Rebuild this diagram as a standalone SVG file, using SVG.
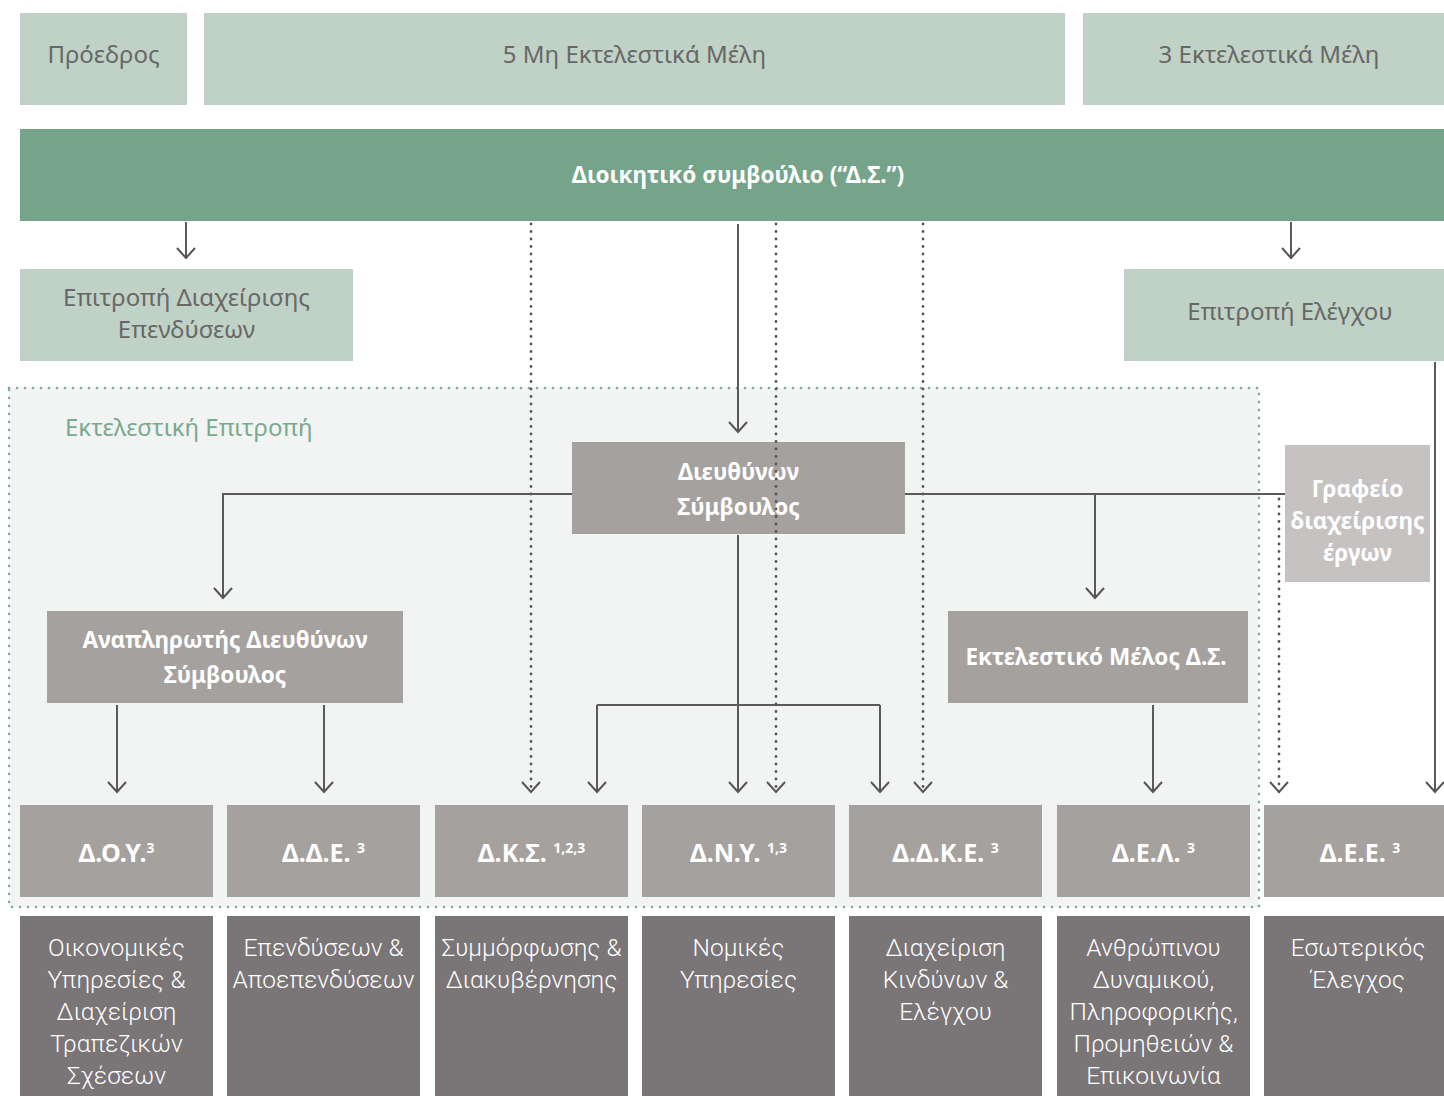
<svg xmlns="http://www.w3.org/2000/svg" width="1444" height="1096" viewBox="0 0 1444 1096">
<style>
.top{fill:#c0d1c6}
.ds{fill:#75a48a}
.mid{fill:#a5a19f}
.light{fill:#c6c2c2}
.dark{fill:#7a7576}
.tl{font-family:"Noto Sans","DejaVu Sans",sans-serif;font-size:24px;fill:#676767;text-anchor:middle}
.tb{font-family:"Noto Sans","DejaVu Sans",sans-serif;font-size:22.5px;font-weight:bold;fill:#ffffff;text-anchor:middle}
.tc{font-family:"Noto Sans","DejaVu Sans",sans-serif;font-size:25px;font-weight:bold;fill:#ffffff;text-anchor:middle}
.tw{font-family:Roboto,"Noto Sans",sans-serif;font-size:24.5px;font-weight:300;fill:#ffffff;text-anchor:middle}
.sup{font-size:14px}
.ln{fill:none;stroke:#5a5a5a;stroke-width:2}
.dot{fill:none;stroke:#555;stroke-width:2.8;stroke-linecap:round;stroke-dasharray:0 7.5}
</style>
<defs>
<marker id="arr" markerUnits="userSpaceOnUse" markerWidth="24" markerHeight="24" refX="12" refY="12" orient="auto">
<path d="M2,3 L12,12 L2,21" fill="none" stroke="#555" stroke-width="2" stroke-dasharray="none"/>
</marker>
</defs>

<g id="exec-committee">
<rect x="9" y="388" width="1250" height="519" fill="#f2f4f3" stroke="#7aaa8e" stroke-width="2.6" stroke-linecap="round" stroke-dasharray="0 8"/>
<text x="65" y="436" font-family="Noto Sans, DejaVu Sans, sans-serif" font-size="24" fill="#7aaa8e">Εκτελεστική Επιτροπή</text>
</g>

<g id="proedros"><rect class="top" x="20" y="13" width="167" height="92"/><text class="tl" x="103.5" y="63">Πρόεδρος</text></g>
<g id="mi-ektelestika"><rect class="top" x="204" y="13" width="861" height="92"/><text class="tl" x="634.5" y="63">5 Μη Εκτελεστικά Μέλη</text></g>
<g id="ektelestika"><rect class="top" x="1083" y="13" width="361" height="92"/><text class="tl" x="1269" y="63">3 Εκτελεστικά Μέλη</text></g>

<g id="ds"><rect class="ds" x="20" y="129" width="1424" height="92"/><text class="tb" x="738" y="183" font-size="23.5">Διοικητικό συμβούλιο (“Δ.Σ.”)</text></g>

<g id="epitropi-ependyseon"><rect class="top" x="20" y="269" width="333" height="92"/><text class="tl" x="186.5" y="306">Επιτροπή Διαχείρισης</text><text class="tl" x="186.5" y="338">Επενδύσεων</text></g>
<g id="epitropi-elegxou"><rect class="top" x="1124" y="269" width="320" height="92"/><text class="tl" x="1290" y="320">Επιτροπή Ελέγχου</text></g>

<g id="ceo"><rect class="mid" x="572" y="442" width="333" height="92"/><text class="tb" x="738.5" y="480">Διευθύνων</text><text class="tb" x="738.5" y="515">Σύμβουλος</text></g>
<g id="grafeio"><rect class="light" x="1285" y="445" width="145" height="137"/><text class="tb" x="1357.5" y="497">Γραφείο</text><text class="tb" x="1357.5" y="529">διαχείρισης</text><text class="tb" x="1357.5" y="561">έργων</text></g>
<g id="anaplirotis"><rect class="mid" x="47" y="611" width="356" height="92"/><text class="tb" x="225" y="648">Αναπληρωτής Διευθύνων</text><text class="tb" x="225" y="683">Σύμβουλος</text></g>
<g id="ektelestiko-melos"><rect class="mid" x="948" y="611" width="300" height="92"/><text class="tb" x="1096" y="665">Εκτελεστικό Μέλος Δ.Σ.</text></g>

<g id="doy"><rect class="mid" x="20" y="805" width="193" height="92"/><text class="tc" x="116.5" y="862">Δ.Ο.Υ.<tspan class="sup" dy="-9">3</tspan></text></g>
<g id="dde"><rect class="mid" x="227" y="805" width="193" height="92"/><text class="tc" x="323.5" y="862">Δ.Δ.Ε. <tspan class="sup" dy="-9">3</tspan></text></g>
<g id="dks"><rect class="mid" x="435" y="805" width="193" height="92"/><text class="tc" x="531.5" y="862">Δ.Κ.Σ. <tspan class="sup" dy="-9">1,2,3</tspan></text></g>
<g id="dny"><rect class="mid" x="642" y="805" width="193" height="92"/><text class="tc" x="738.5" y="862">Δ.Ν.Υ. <tspan class="sup" dy="-9">1,3</tspan></text></g>
<g id="ddke"><rect class="mid" x="849" y="805" width="193" height="92"/><text class="tc" x="945.5" y="862">Δ.Δ.Κ.Ε. <tspan class="sup" dy="-9">3</tspan></text></g>
<g id="del"><rect class="mid" x="1057" y="805" width="193" height="92"/><text class="tc" x="1153.5" y="862">Δ.Ε.Λ. <tspan class="sup" dy="-9">3</tspan></text></g>
<g id="dee"><rect class="mid" x="1264" y="805" width="193" height="92"/><text class="tc" x="1360" y="862">Δ.Ε.Ε. <tspan class="sup" dy="-9">3</tspan></text></g>

<g id="oikonomikes"><rect class="dark" x="20" y="916" width="193" height="180"/><text class="tw" x="116.5" y="956">Οικονομικές</text><text class="tw" x="116.5" y="988">Υπηρεσίες &amp;</text><text class="tw" x="116.5" y="1020">Διαχείριση</text><text class="tw" x="116.5" y="1052">Τραπεζικών</text><text class="tw" x="116.5" y="1084">Σχέσεων</text></g>
<g id="ependyseon"><rect class="dark" x="227" y="916" width="193" height="180"/><text class="tw" x="323.5" y="956">Επενδύσεων &amp;</text><text class="tw" x="323.5" y="988">Αποεπενδύσεων</text></g>
<g id="symmorfosis"><rect class="dark" x="435" y="916" width="193" height="180"/><text class="tw" x="531.5" y="956">Συμμόρφωσης &amp;</text><text class="tw" x="531.5" y="988">Διακυβέρνησης</text></g>
<g id="nomikes"><rect class="dark" x="642" y="916" width="193" height="180"/><text class="tw" x="738.5" y="956">Νομικές</text><text class="tw" x="738.5" y="988">Υπηρεσίες</text></g>
<g id="kindynon"><rect class="dark" x="849" y="916" width="193" height="180"/><text class="tw" x="945.5" y="956">Διαχείριση</text><text class="tw" x="945.5" y="988">Κινδύνων &amp;</text><text class="tw" x="945.5" y="1020">Ελέγχου</text></g>
<g id="anthropinou"><rect class="dark" x="1057" y="916" width="193" height="180"/><text class="tw" x="1153.5" y="956">Ανθρώπινου</text><text class="tw" x="1153.5" y="988">Δυναμικού,</text><text class="tw" x="1153.5" y="1020">Πληροφορικής,</text><text class="tw" x="1153.5" y="1052">Προμηθειών &amp;</text><text class="tw" x="1153.5" y="1084">Επικοινωνία</text></g>
<g id="esoterikos"><rect class="dark" x="1264" y="916" width="193" height="180"/><text class="tw" x="1358" y="956">Εσωτερικός</text><text class="tw" x="1358" y="988">Έλεγχος</text></g>

<g id="connectors">
<path class="ln" d="M186 222 V258" marker-end="url(#arr)"/>
<path class="ln" d="M1291 222 V258" marker-end="url(#arr)"/>
<path class="ln" d="M738 224 V432" marker-end="url(#arr)"/>
<path class="ln" d="M572 494 H223 V598" marker-end="url(#arr)"/>
<path class="ln" d="M905 494 H1285"/>
<path class="ln" d="M1095 494 V598" marker-end="url(#arr)"/>
<path class="ln" d="M738 535 V792" marker-end="url(#arr)"/>
<path class="ln" d="M597 705 H880"/>
<path class="ln" d="M597 705 V792" marker-end="url(#arr)"/>
<path class="ln" d="M880 705 V792" marker-end="url(#arr)"/>
<path class="ln" d="M117 705 V792" marker-end="url(#arr)"/>
<path class="ln" d="M324 705 V792" marker-end="url(#arr)"/>
<path class="ln" d="M1153 705 V792" marker-end="url(#arr)"/>
<path class="ln" d="M1435 362 V792" marker-end="url(#arr)"/>
<path class="dot" d="M531 224 V792" marker-end="url(#arr)"/>
<path class="dot" d="M776 224 V792" marker-end="url(#arr)"/>
<path class="dot" d="M923 224 V792" marker-end="url(#arr)"/>
<path class="dot" d="M1279 499 V792" marker-end="url(#arr)"/>
</g>
</svg>
